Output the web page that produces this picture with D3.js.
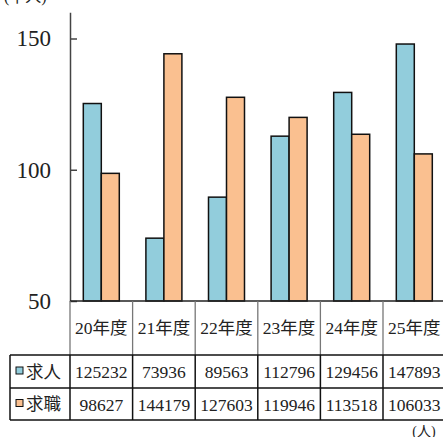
<!DOCTYPE html>
<html><head><meta charset="utf-8">
<script src="https://cdn.jsdelivr.net/npm/d3@7"></script>
<style>body{margin:0;background:#fff}svg{display:block}</style>
</head><body>
<script>
const categories = ["20年度","21年度","22年度","23年度","24年度","25年度"];
const seriesNames = ["求人","求職"];
const kyujin = [125232,73936,89563,112796,129456,147893];
const kyushoku = [98627,144179,127603,119946,113518,106033];
const yTicks = [50,100,150];
const colors = ["#92CDDC","#FAC090"];
const FONT = "'Liberation Serif','DejaVu Serif','Noto Sans CJK JP',serif";

const W=443,H=437;
const svg=d3.select("body").append("svg").attr("width",W).attr("height",H);
const x=d3.scaleBand().domain(categories).range([70,70+6*62.6]);
const x1=d3.scaleBand().domain(seriesNames).range([0,x.bandwidth()]).paddingOuter(0.739);
const y=d3.scaleLinear().domain([50,160]).range([301,12.25]);
const values=[kyujin,kyushoku];

// bars
seriesNames.forEach((s,si)=>{
  svg.append("g").selectAll("rect").data(categories).join("rect")
    .attr("x",d=>x(d)+x1(s)).attr("width",x1.bandwidth())
    .attr("y",(d,i)=>y(values[si][i]/1000))
    .attr("height",(d,i)=>y(50)-y(values[si][i]/1000))
    .attr("fill",colors[si]).attr("stroke","#111").attr("stroke-width",1.5);
});

// y axis
const ax=svg.append("g").attr("transform","translate(70,0)")
  .call(d3.axisLeft(y).tickValues(yTicks).tickSizeInner(-7).tickSizeOuter(0).tickPadding(19).tickFormat(d3.format("d")));
ax.select(".domain").attr("stroke","#444").attr("stroke-width",1.5);
ax.selectAll(".tick line").attr("stroke","#444").attr("stroke-width",1.5);
ax.selectAll(".tick text").attr("font-family",FONT).attr("font-size",23).attr("fill","#222");

svg.append("text").attr("x",4).attr("y",2).attr("font-family",FONT).attr("font-size",16).attr("fill","#222").text("(千人)");

// table
const t=svg.append("g");
const rowY=[301,355,388,420];
const right=W+5;
// category row
t.append("line").attr("x1",70).attr("x2",right).attr("y1",301).attr("y2",301).attr("stroke","#222").attr("stroke-width",1.5);
categories.forEach((c,i)=>{
  t.append("line").attr("x1",x(c)).attr("x2",x(c)).attr("y1",301).attr("y2",355).attr("stroke","#777").attr("stroke-width",1.3);
  t.append("text").attr("x",x(c)+x.bandwidth()/2).attr("y",334).attr("text-anchor","middle")
    .attr("font-family",FONT).attr("font-size",17.5).attr("fill","#222").text(c);
});
// body rows
[355,388,420].forEach(yy=>t.append("line").attr("x1",10).attr("x2",right).attr("y1",yy).attr("y2",yy).attr("stroke","#111").attr("stroke-width",1.5));
t.append("line").attr("x1",10).attr("x2",10).attr("y1",355).attr("y2",420).attr("stroke","#111").attr("stroke-width",1.5);
categories.forEach(c=>t.append("line").attr("x1",x(c)).attr("x2",x(c)).attr("y1",355).attr("y2",420).attr("stroke","#111").attr("stroke-width",1.5));
seriesNames.forEach((s,si)=>{
  const cy=(rowY[si+1]+rowY[si+2])/2;
  t.append("rect").attr("x",16).attr("y",cy-4.5).attr("width",7).attr("height",7)
    .attr("fill",colors[si]).attr("stroke","#111").attr("stroke-width",1);
  t.append("text").attr("x",26).attr("y",cy+6).attr("font-family",FONT).attr("font-size",17.5).attr("fill","#222").text(s);
  categories.forEach((c,i)=>{
    t.append("text").attr("x",x(c)+x.bandwidth()/2).attr("y",cy+6.5).attr("text-anchor","middle")
      .attr("font-family",FONT).attr("font-size",17.5).attr("fill","#222").text(values[si][i]);
  });
});
svg.append("text").attr("x",424).attr("y",436).attr("text-anchor","middle").attr("font-family",FONT).attr("font-size",14).attr("fill","#222").text("(人)");
</script>
</body></html>
